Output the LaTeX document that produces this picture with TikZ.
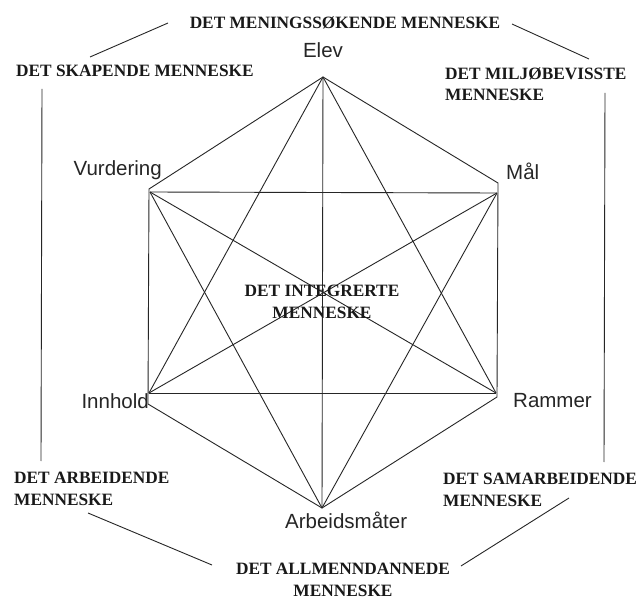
\documentclass[tikz,border=0pt]{standalone}
\usepackage{fontspec}
\setmainfont{Liberation Serif}
\setsansfont{Liberation Sans}
\begin{document}
\begin{tikzpicture}[x=1pt,y=-1pt,
  edge/.style={draw=black!85,line width=0.9pt},
  caps/.style={font=\fontsize{17.3}{21.5}\selectfont\bfseries, inner sep=0pt, text=black!90},
  lab/.style={font=\fontsize{20.5}{22}\selectfont\sffamily, inner sep=0pt, text=black!85}]
\path[use as bounding box] (0,0) rectangle (641,599);
\fill[white] (0,0) rectangle (641,599);
% vertices
\coordinate (A) at (323,77);
\coordinate (B) at (322,508);
\coordinate (oUL) at (149,189);
\coordinate (oUR) at (498,183);
\coordinate (oLL) at (148,404);
\coordinate (oLR) at (497,397);
\coordinate (UL) at (150,192);
\coordinate (UR) at (497,193);
\coordinate (LL) at (149,393);
\coordinate (LR) at (496,393);
% hexagon
\draw[edge] (A) -- (oUR) -- (oLR) -- (B) -- (oLL) -- (oUL) -- cycle;
% horizontals and diagonals
\draw[edge] (UL) -- (UR);
\draw[edge] (LL) -- (LR);
\draw[edge] (UL) -- (LR);
\draw[edge] (UR) -- (LL);
% triangles
\draw[edge] (A) -- (LL);
\draw[edge] (A) -- (LR);
\draw[edge] (B) -- (UL);
\draw[edge] (B) -- (UR);
\draw[edge] (A) -- (B);
% inner labels
\node[lab] (elev) at (323,50) {Elev};
\node[lab,anchor=east] (vurd) at (162,170) {Vurdering};
\node[lab,anchor=west] (maal) at (506,171) {Mål};
\node[lab,anchor=east] (innh) at (149,401) {Innhold};
\node[lab,anchor=west] (ramm) at (513,401) {Rammer};
\node[lab,anchor=west] (arb) at (285,520) {Arbeidsmåter};
\node[caps,align=center] (integ) at (322,302) {DET INTEGRERTE\\MENNESKE};
% outer labels
\node[caps] (mening) at (345,23) {DET MENINGSSØKENDE MENNESKE};
\node[caps,anchor=west] (skap) at (16,71) {DET SKAPENDE MENNESKE};
\node[caps,anchor=west,align=left] (milj) at (445,84) {DET MILJØBEVISSTE\\MENNESKE};
\node[caps,anchor=west,align=left] (arbm) at (14,489) {DET ARBEIDENDE\\MENNESKE};
\node[caps,anchor=west,align=left] (samm) at (443,490) {DET SAMARBEIDENDE\\MENNESKE};
\node[caps,align=center] (allm) at (343,580) {DET ALLMENNDANNEDE\\MENNESKE};
% outer connectors
\coordinate (tl1) at (90,57);
\coordinate (tl2) at (168,23);
\coordinate (tr1) at (512,24);
\coordinate (tr2) at (589,59);
\coordinate (lv1) at (42,89);
\coordinate (lv2) at (41,461);
\coordinate (rv1) at (605,93);
\coordinate (rv2) at (604,462);
\coordinate (bl1) at (88,513);
\coordinate (bl2) at (212,565);
\coordinate (br1) at (569,498);
\coordinate (br2) at (461,566);
\draw[edge] (tl1) -- (tl2);
\draw[edge] (tr1) -- (tr2);
\draw[edge] (lv1) -- (lv2);
\draw[edge] (rv1) -- (rv2);
\draw[edge] (bl1) -- (bl2);
\draw[edge] (br1) -- (br2);
\end{tikzpicture}
\end{document}
